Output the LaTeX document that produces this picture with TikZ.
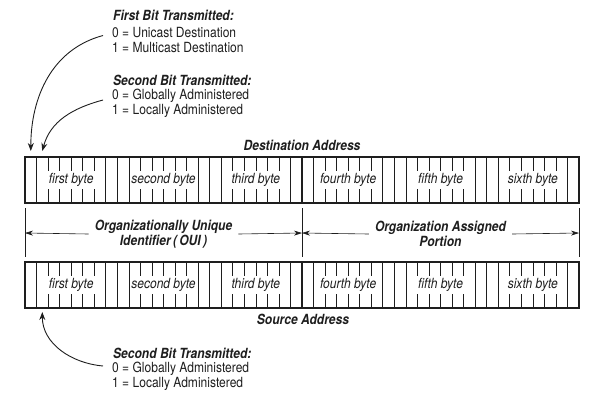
\documentclass[tikz,border=0pt]{standalone}
\usepackage{fontspec}
\setmainfont{TeX Gyre Heros}[FakeStretch=0.86]
\usepackage{tikz}
\usetikzlibrary{calc,arrows.meta}
\definecolor{mac-ink}{HTML}{1E1E1E}
\newcommand\labelsize{\fontsize{14}{15}\selectfont}

\tikzset{
  bytelbl/.style={font=\labelsize\itshape, inner sep=1pt},
  headlbl/.style={font=\labelsize\bfseries\itshape, inner sep=0pt},
  notehead/.style={font=\labelsize\bfseries\itshape, anchor=west, inner xsep=9pt, inner ysep=0pt},
  notevals/.style={font=\labelsize, align=left, anchor=west, inner xsep=9pt, inner ysep=0pt},
  spanlbl/.style={font=\labelsize\bfseries\itshape, align=center, inner sep=0pt, inner xsep=6pt},
  bitline/.style={line width=0.6pt},
  byteline/.style={line width=1.3pt},
  dimline/.style={line width=0.6pt, -{Stealth[length=8pt,width=5pt]}},
  bitarrow/.style={line width=0.9pt, -{Stealth[length=8pt,width=6pt]}},
}

\begin{document}
\begin{tikzpicture}[x=1pt, y=-1pt, mac-ink]
    \useasboundingbox (0,0) rectangle (596,400);

    % the two address rows, six bytes of eight bits each
    \foreach \rw/\ytop in {d/157, s/262} {
        \foreach \b [count=\i from 0] in {first,second,third,fourth,fifth,sixth} {
            \pgfmathsetmacro\xl{25+\i*92.33}
            \draw[bitline] (\xl+11.54,\ytop) -- ++(0,46);
            \draw[bitline] (\xl+80.79,\ytop) -- ++(0,46);
            \foreach \k in {2,...,6} {
                \draw[bitline] (\xl+\k*11.54,\ytop) -- ++(0,14);
                \draw[bitline] (\xl+\k*11.54,\ytop+46) -- ++(0,-14);
            }
            \draw[byteline] (\xl,\ytop) rectangle ++(92.33,46);
            \node[bytelbl] (\rw\i) at (\xl+46.17,\ytop+23) {\b\ byte};
        }
    }
    \node[headlbl] (dst) at (302,145) {Destination Address};
    \node[headlbl] (src) at (303,319) {Source Address};

    % OUI / assigned portion
    \foreach \x in {25,302,579}
        \draw[bitline] (\x,208) -- (\x,257);
    \coordinate (dl) at (25,233);
    \coordinate (dm) at (302,233);
    \coordinate (dr) at (579,233);
    \node[spanlbl] (oui) at (163.5,234) {Organizationally Unique\\Identifier\,(\,OUI\,)};
    \node[spanlbl] (oap) at (440.5,234) {Organization Assigned\\Portion};
    \draw[dimline] (oui.west) -- (dl);
    \draw[dimline] (oui.east) -- (dm);
    \draw[dimline] (oap.west) -- (dm);
    \draw[dimline] (oap.east) -- (dr);

    % bit notes
    \node[notehead] (fhead) at (104,15) {First Bit Transmitted:};
    \node[notevals] (fvals) at (103,39.5) {0 = Unicast Destination\\1 = Multicast Destination};
    \node[notehead] (shead) at (104,80) {Second Bit Transmitted:};
    \node[notevals] (svals) at (103,103) {0 = Globally Administered\\1 = Locally Administered};
    \node[notehead] (bhead) at (104,353) {Second Bit Transmitted:};
    \node[notevals] (bvals) at (103,376) {0 = Globally Administered\\1 = Locally Administered};

    \coordinate (dbit1) at (30.8,151);
    \coordinate (dbit2) at (42.3,151);
    \coordinate (sbit2) at (42.3,312);
    \draw[bitarrow] ([yshift=4pt]fvals.west) to[out=195, in=90] (dbit1);
    \draw[bitarrow] ([yshift=3pt]svals.west) to[out=195, in=75] (dbit2);
    \draw[bitarrow] ([yshift=10pt]bvals.west) to[out=175, in=-90] (sbit2);
\end{tikzpicture}
\end{document}
